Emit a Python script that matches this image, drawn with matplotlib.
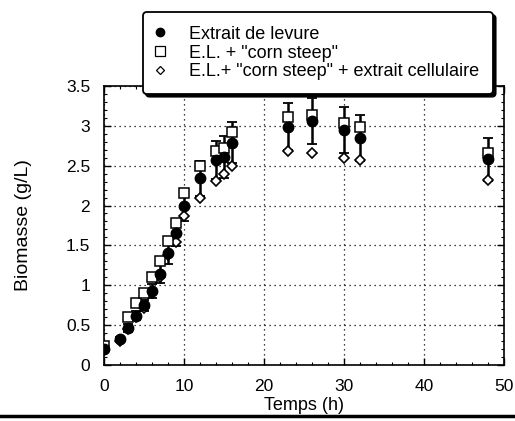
import numpy as np
import matplotlib
matplotlib.use('Agg')
import matplotlib.pyplot as plt
from matplotlib.lines import Line2D
from matplotlib.ticker import MultipleLocator, FormatStrFormatter

plt.rcParams['font.family'] = ['Liberation Sans', 'DejaVu Sans']

# temps (h)
t = [0, 2, 3, 4, 5, 6, 7, 8, 9, 10, 12, 14, 15, 16, 23, 26, 30, 32, 48]

# extrait de levure
levure = [0.20, 0.32, 0.47, 0.62, 0.75, 0.93, 1.14, 1.41, 1.66, 2.00,
          2.34, 2.57, 2.61, 2.79, 2.99, 3.06, 2.95, 2.85, 2.58]
levure_err = [0.02, 0.03, 0.05, 0.06, 0.07, 0.09, 0.11, 0.14, 0.17, 0.20,
              0.22, 0.24, 0.26, 0.26, 0.30, 0.29, 0.29, 0.29, 0.27]

# E.L. + corn steep
corn = [0.24, np.nan, 0.60, 0.78, 0.90, 1.10, 1.30, 1.55, 1.78, 2.16,
        2.49, 2.68, 2.72, 2.92, 3.11, 3.13, 3.03, 2.98, 2.66]

# E.L. + corn steep + extrait cellulaire
cell = [0.20, 0.30, 0.45, 0.60, 0.72, 0.90, 1.10, 1.38, 1.54, 1.87,
        2.10, 2.31, 2.40, 2.50, 2.68, 2.66, 2.60, 2.57, 2.32]

labels = ['Extrait de levure', 'E.L. + "corn steep"',
          'E.L.+ "corn steep" + extrait cellulaire']

fig = plt.figure(figsize=(5.15, 4.21), dpi=100)
ax = fig.add_axes([0.202, 0.133, 0.777, 0.663])

ax.errorbar(t, levure, yerr=levure_err, fmt='none', ecolor='k',
            elinewidth=1.8, capsize=3.5, capthick=1.3, zorder=2)
ax.plot(t, cell, ls='None', marker='D', ms=5.5, mfc='white', mec='k',
        mew=1.2, zorder=3)
ax.plot(t, corn, ls='None', marker='s', ms=7.5, mfc='white', mec='k',
        mew=1.1, zorder=3)
ax.plot(t, levure, ls='None', marker='o', ms=7.5, mfc='k', mec='k', zorder=4)

ax.set_xlim(0, 50)
ax.set_ylim(0, 3.5)
ax.xaxis.set_major_locator(MultipleLocator(10))
ax.xaxis.set_minor_locator(MultipleLocator(2))
ax.yaxis.set_major_locator(MultipleLocator(0.5))
ax.yaxis.set_minor_locator(MultipleLocator(0.1))
ax.yaxis.set_major_formatter(FormatStrFormatter('%g'))
ax.tick_params(which='both', direction='in', top=True, right=True,
               labelsize=12.5)
ax.tick_params(which='major', length=5, width=1)
ax.tick_params(which='minor', length=2.5, width=0.8)
ax.tick_params(axis='x', pad=10)
ax.tick_params(axis='y', pad=10)
ax.grid(True, which='major', color='k', ls=(0, (1, 3)), lw=0.9)
for s in ax.spines.values():
    s.set_linewidth(1.2)

ax.set_xlabel('Temps (h)', fontsize=13)
ax.set_ylabel('Biomasse (g/L)', fontsize=14)
ax.xaxis.set_label_coords(0.5, -0.115)
ax.yaxis.set_label_coords(-0.18, 0.5)

handles = [
    Line2D([], [], ls='None', marker='o', ms=6, mfc='k', mec='k'),
    Line2D([], [], ls='None', marker='s', ms=6.5, mfc='white', mec='k', mew=0.9),
    Line2D([], [], ls='None', marker='D', ms=4.5, mfc='white', mec='k', mew=0.9),
]
leg = ax.legend(handles, labels, loc='upper left',
                bbox_to_anchor=(0.278, 0.971), bbox_transform=fig.transFigure,
                fontsize=13, handlelength=0.4, handletextpad=1.4,
                labelspacing=0.1, borderpad=0.75, borderaxespad=0,
                fancybox=True, shadow={'color': 'k', 'alpha': 1},
                framealpha=1, edgecolor='k')
leg.get_frame().set_linewidth(1.3)
leg.set_zorder(10)

fig.add_artist(Line2D([0, 1], [0.012, 0.012], color='k', lw=2.5,
                      transform=fig.transFigure))

fig.savefig('out.png', dpi=100)
